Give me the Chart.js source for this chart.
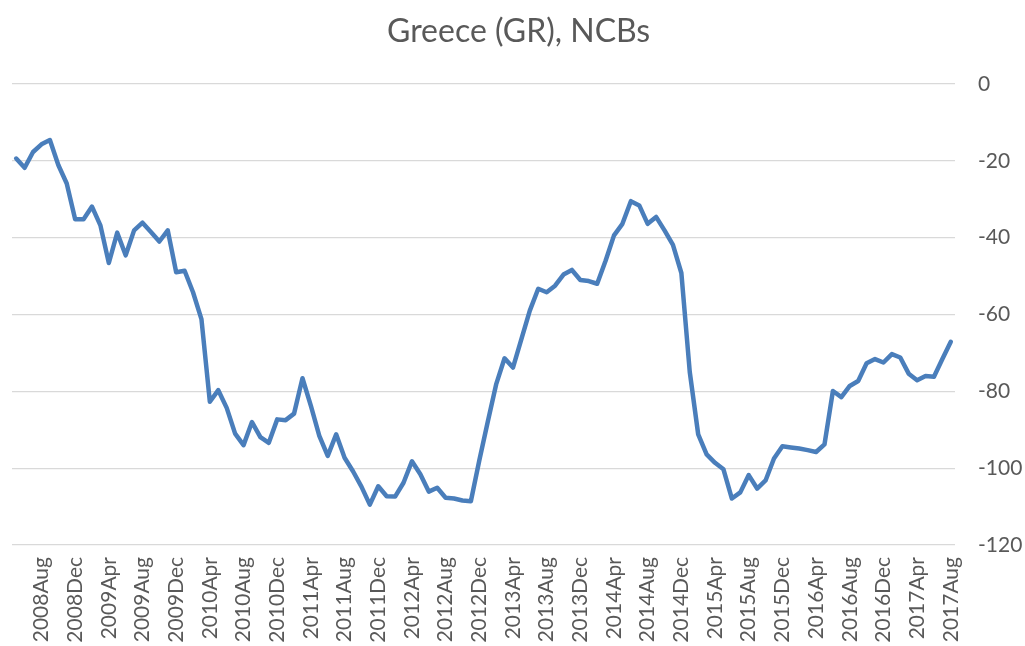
<!DOCTYPE html>
<html>
<head>
<meta charset="utf-8">
<title>Greece (GR), NCBs</title>
<script src="https://cdn.jsdelivr.net/npm/chart.js@4"></script>
<style>
  html, body { margin: 0; padding: 0; background: #ffffff; }
  #chart { display: block; }
</style>
</head>
<body>
<canvas id="chart" width="1025" height="646"></canvas>
<script>
// Monthly categories, 2008 May .. 2017 Aug
const monthNames = ["Jan", "Feb", "Mar", "Apr", "May", "Jun", "Jul", "Aug", "Sep", "Oct", "Nov", "Dec"];
const startYear = 2008;
const startMonth = 4; // May (0-based)
const monthCount = 112;

// values
const ncbValues = [
  -19.4, -21.8, -17.7, -15.7, -14.6, -21.1, -25.9, -35.2, -35.2, -31.9,
  -36.8, -46.6, -38.7, -44.6, -38.1, -36.1, -38.5, -41.0, -38.1, -49.0,
  -48.6, -54.2, -61.2, -82.7, -79.7, -84.3, -91.0, -94.0, -88.0, -91.9,
  -93.4, -87.3, -87.5, -85.8, -76.6, -83.8, -91.6, -96.8, -91.2, -97.3,
  -100.8, -104.8, -109.5, -104.7, -107.3, -107.4, -103.8, -98.2, -101.6, -106.1,
  -105.1, -107.7, -107.9, -108.4, -108.6, -98.0, -88.0, -78.2, -71.4, -73.8,
  -66.4, -59.0, -53.3, -54.2, -52.5, -49.6, -48.4, -51.0, -51.3, -52.0,
  -46.0, -39.4, -36.4, -30.5, -31.6, -36.4, -34.6, -38.1, -41.9, -49.2,
  -75.0, -91.2, -96.4, -98.6, -100.3, -107.9, -106.3, -101.8, -105.3, -103.2,
  -97.5, -94.3, -94.6, -94.9, -95.3, -95.8, -93.8, -79.9, -81.5, -78.6,
  -77.3, -72.7, -71.6, -72.5, -70.3, -71.2, -75.4, -77.1, -76.0, -76.2,
  -71.6, -67.1
];

const yTicks = [0, -20, -40, -60, -80, -100, -120];

// build labels like "2008Aug"
const monthLabels = [];
for (let i = 0; i < monthCount; i++) {
  const m = startMonth + i;
  monthLabels.push(String(startYear + Math.floor(m / 12)) + monthNames[m % 12]);
}

const textColor = "#595959";
const fontFamily = "Lato, 'Open Sans', sans-serif";

new Chart(document.getElementById("chart").getContext("2d"), {
  type: "line",
  data: {
    labels: monthLabels,
    datasets: [
      {
        label: "Greece (GR), NCBs",
        data: ncbValues,
        borderColor: "#4a7ebb",
        borderWidth: 4.5,
        borderJoinStyle: "round",
        borderCapStyle: "round",
        pointRadius: 0,
        tension: 0,
        fill: false,
      },
    ],
  },
  options: {
    responsive: false,
    animation: false,
    layout: {
      padding: { left: 12, right: 0, top: 0, bottom: 0 },
    },
    plugins: {
      legend: { display: false },
      tooltip: { enabled: false },
      title: {
        display: true,
        text: "Greece (GR), NCBs",
        color: textColor,
        font: { family: fontFamily, size: 32, weight: "normal" },
        padding: { top: 12, bottom: 33.6 },
      },
    },
    scales: {
      x: {
        type: "category",
        offset: true,
        grid: { display: false, drawTicks: false },
        border: { display: false },
        afterFit: function (axis) {
          axis.height = 101;
        },
        ticks: {
          autoSkip: false,
          maxRotation: 90,
          minRotation: 90,
          padding: 12,
          color: textColor,
          font: { family: fontFamily, size: 21 },
          // a label every 4 months, starting at 2008Aug
          callback: function (value, index) {
            return (index - 3) % 4 === 0 ? this.getLabelForValue(value) : "";
          },
        },
      },
      y: {
        position: "right",
        min: yTicks[yTicks.length - 1],
        max: yTicks[0],
        grid: { color: "#d9d9d9", lineWidth: 1.3, drawTicks: false },
        border: { display: false },
        afterBuildTicks: function (axis) {
          axis.ticks = yTicks.map((v) => ({ value: v }));
        },
        afterFit: function (axis) {
          axis.width = 70;
        },
        ticks: {
          padding: 23,
          color: textColor,
          font: { family: fontFamily, size: 21 },
        },
      },
    },
  },
});
</script>
</body>
</html>
